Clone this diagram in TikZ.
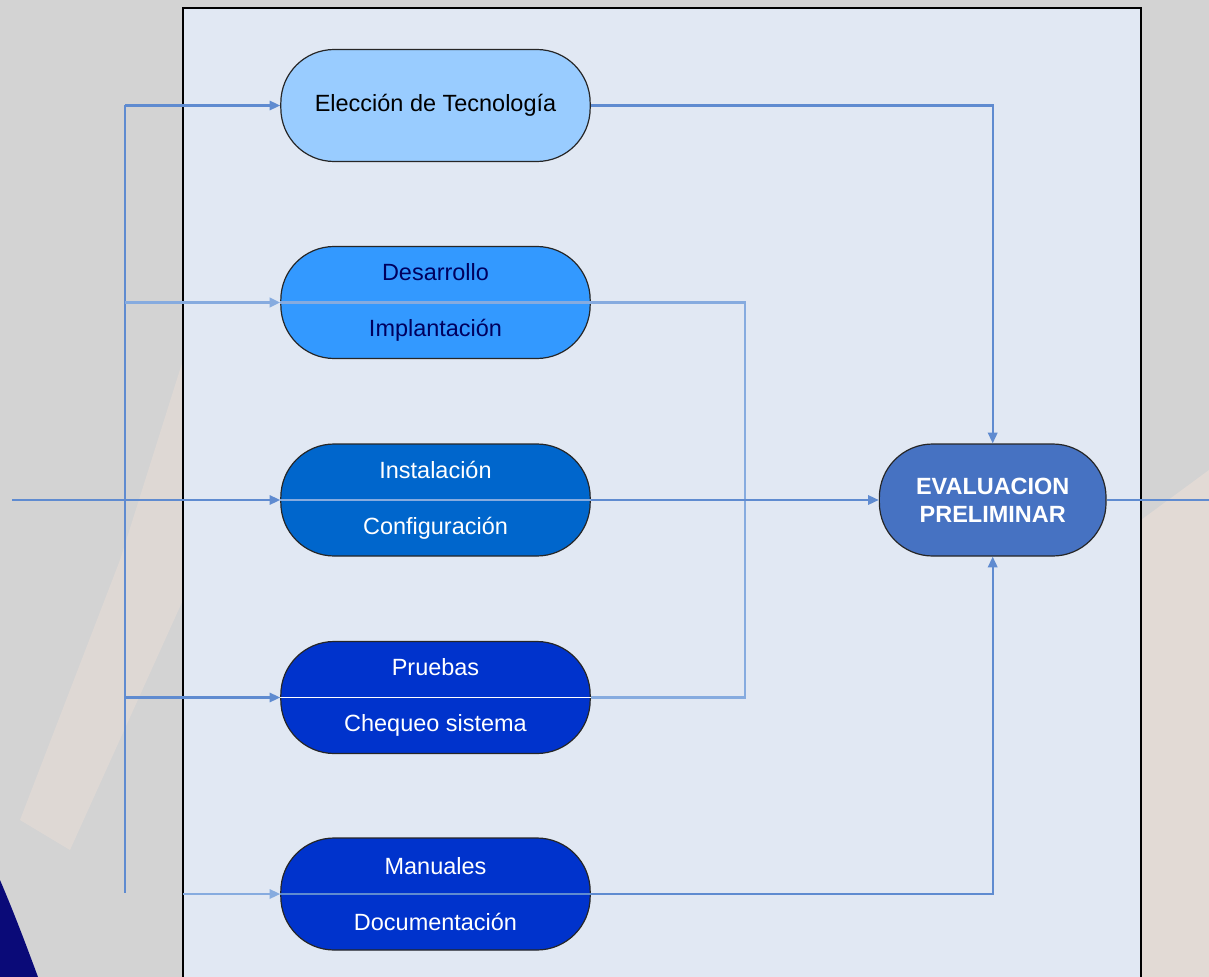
\documentclass[tikz,border=0pt]{standalone}
\usepackage{fontspec}
\setmainfont{Liberation Sans}
\usetikzlibrary{arrows.meta,positioning}

\definecolor{fondo}{HTML}{D3D3D3}
\definecolor{durazno}{HTML}{E9DDD6}
\definecolor{marino}{HTML}{0A0A78}
\definecolor{panel}{HTML}{E1E8F3}
\definecolor{linea}{HTML}{5F8BD0}
\definecolor{lineaclara}{HTML}{86ABDF}
\definecolor{azul1}{HTML}{99CCFF}
\definecolor{azul2}{HTML}{3399FF}
\definecolor{azul3}{HTML}{0066CC}
\definecolor{azul4}{HTML}{0033CC}
\definecolor{azuleval}{HTML}{4672C2}
\definecolor{textonavy}{HTML}{00005E}

\begin{document}
\begin{tikzpicture}[x=0.75pt,y=-0.75pt,
  fasebox/.style = {rectangle, rounded corners=40pt,
                    draw=black!85, line width=0.9pt,
                    minimum width=232pt, minimum height=84pt,
                    align=center, font=\fontsize{17.6}{42}\selectfont},
  evalbox/.style = {rectangle, rounded corners=40pt,
                    draw=black!85, line width=0.9pt, fill=azuleval,
                    minimum width=170pt, minimum height=84pt,
                    align=center, text=white,
                    font=\fontsize{17.6}{21}\selectfont\bfseries},
  lin/.style  = {line width=1.6pt, draw=linea},
  arr/.style  = {lin, -{Triangle[length=8pt,width=7pt]}},
  sep/.style  = {line width=0.9pt},
]

\useasboundingbox (0,0) rectangle (1209,977);
\clip (0,0) rectangle (1209,977);

%%═══════════════════════════════════════════════════════════
%% Background and panel
%%═══════════════════════════════════════════════════════════

\fill[fondo] (0,0) rectangle (1209,977);
\fill[durazno, opacity=0.5] (183,360) -- (183,600) -- (70,850)
  -- (20,820) -- (120,560) -- cycle;
\fill[durazno, opacity=0.7] (1141,520) -- (1209,470) -- (1209,977)
  -- (1141,977) -- cycle;
\fill[marino] (0,880) .. controls (15,915) and (28,950) .. (38,977)
  -- (0,977) -- cycle;

\coordinate (pnl) at (183,8);
\draw[fill=panel, line width=1.1pt] (pnl) rectangle (1141,990);

%%═══════════════════════════════════════════════════════════
%% Phases
%%═══════════════════════════════════════════════════════════

\node[fasebox, fill=azul1] (elec) at (435.5,105.5)
  {Elección de Tecnología};

\node[fasebox, fill=azul2, text=textonavy] (des) at (435.5,302.5)
  {Desarrollo\\Implantación};

\node[fasebox, fill=azul3, text=white] (ins) at (435.5,500)
  {Instalación\\Configuración};

\node[fasebox, fill=azul4, text=white] (pru) at (435.5,697.5)
  {Pruebas\\Chequeo sistema};

\node[fasebox, fill=azul4, text=white] (man) at (435.5,894)
  {Manuales\\Documentación};

\node[evalbox, right=216pt of ins] (eval) {EVALUACION\\PRELIMINAR};

%% dividers
\draw[sep, draw=lineaclara, line width=2.2pt] (des.west) -- (des.east);
\draw[sep, draw=lineaclara] (ins.west) -- (ins.east);
\draw[sep, draw=white]      (pru.west) -- (pru.east);
\draw[sep, draw=linea]      (man.west) -- (man.east);

%%═══════════════════════════════════════════════════════════
%% Connectors
%%═══════════════════════════════════════════════════════════

\coordinate (top)     at (125,105.5);
\coordinate (bot)     at (125,893);
\coordinate (entrada) at (12,500);
\coordinate (col)     at (745,302);
\coordinate (salida)  at (1209,500);

\draw[lin] (top) -- (bot);
\draw[arr] (top) -- (elec.west);
\draw[arr, line width=2.2pt, draw=lineaclara] (des.west -| top) -- (des.west);
\draw[arr] (entrada) -- (ins.west);
\draw[arr] (pru.west -| top) -- (pru.west);
\draw[arr, draw=lineaclara] (man.west -| pnl) -- (man.west);

\draw[lin, draw=lineaclara, line width=2pt] (des.east) -- (des.east -| col)
  -- (pru.east -| col) -- (pru.east);
\draw[arr] (ins.east) -- (eval.west);
\draw[arr] (elec.east) -| (eval.north);
\draw[arr] (man.east) -| (eval.south);
\draw[lin] (eval.east) -- (salida);

\end{tikzpicture}
\end{document}
